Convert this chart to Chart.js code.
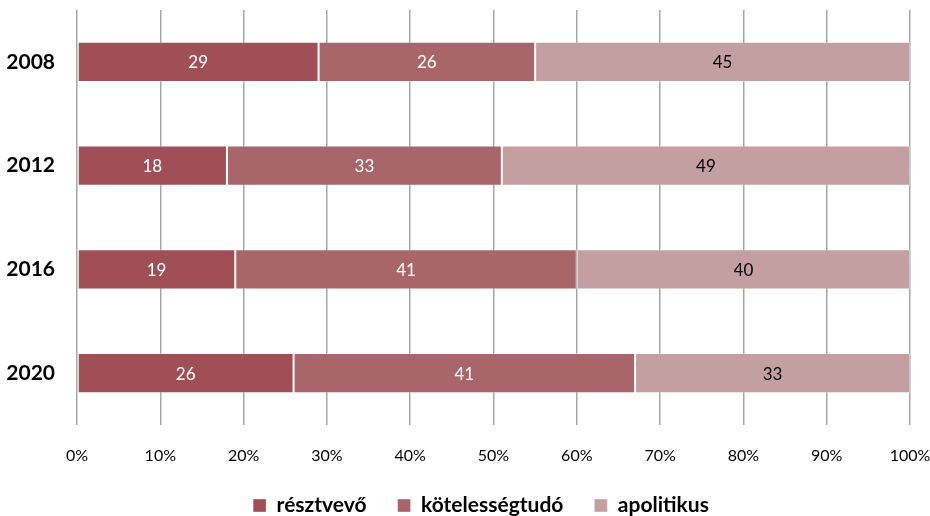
<!DOCTYPE html>
<html>
<head>
<meta charset="utf-8">
<script src="https://cdn.jsdelivr.net/npm/chart.js@4/dist/chart.umd.min.js"></script>
<style>
  html, body { margin: 0; padding: 0; background: #fff; overflow: hidden; }
  #wrap { width: 930px; height: 526px; position: relative; }
</style>
</head>
<body>
<div id="wrap"><canvas id="myChart"></canvas></div>
<script>
// years on the category axis
var years = ['2008', '2012', '2016', '2020'];
// shares (%) per group
var resztvevo = [29, 18, 19, 26];
var kotelesseg = [26, 33, 41, 41];
var apolitikus = [45, 49, 40, 33];
var xTicks = [0, 10, 20, 30, 40, 50, 60, 70, 80, 90, 100];

var fontName = "Lato, 'Open Sans', sans-serif";

// writes the value in the middle of each segment
var barLabels = {
  id: 'barLabels',
  afterDatasetsDraw: function(chart) {
    var ctx = chart.ctx;
    ctx.save();
    ctx.font = '17px ' + fontName;
    ctx.textAlign = 'center';
    ctx.textBaseline = 'middle';
    chart.data.datasets.forEach(function(ds, i) {
      var meta = chart.getDatasetMeta(i);
      meta.data.forEach(function(bar, j) {
        var mid = (bar.x + bar.base) / 2;
        ctx.fillStyle = i == 2 ? '#000' : '#fff';
        ctx.fillText(ds.data[j], mid, bar.y + 1);
      });
    });
    ctx.restore();
  }
};

// legend sits a bit right of the centre in the original
var shiftLegend = {
  id: 'shiftLegend',
  afterLayout: function(chart) {
    chart.legend.left += 26;
    chart.legend.right += 26;
  }
};

var ctx = document.getElementById('myChart').getContext('2d');
var myChart = new Chart(ctx, {
  type: 'bar',
  data: {
    labels: years,
    datasets: [{
      label: 'résztvevő',
      data: resztvevo,
      backgroundColor: '#a04f56',
      borderColor: 'rgba(255,255,255,0.35)',
      borderWidth: 1,
      borderSkipped: false
    }, {
      label: 'kötelességtudó',
      data: kotelesseg,
      backgroundColor: '#a8666a',
      borderColor: 'rgba(255,255,255,0.35)',
      borderWidth: 1,
      borderSkipped: false
    }, {
      label: 'apolitikus',
      data: apolitikus,
      backgroundColor: '#c49fa2',
      borderColor: 'rgba(255,255,255,0.35)',
      borderWidth: 1,
      borderSkipped: false
    }]
  },
  options: {
    indexAxis: 'y',
    responsive: true,
    maintainAspectRatio: false,
    animation: false,
    layout: { padding: { top: 10, right: 20, left: 0, bottom: 0 } },
    datasets: { bar: { categoryPercentage: 1, barPercentage: 0.39 } },
    scales: {
      x: {
        stacked: true,
        min: 0,
        max: 100,
        afterBuildTicks: function(axis) {
          axis.ticks = xTicks.map(function(v) { return { value: v }; });
        },
        afterFit: function(axis) {
          axis.paddingLeft = 0;
          axis.paddingRight = 0;
          axis.height = 39;
        },
        border: { display: false },
        grid: { color: '#a6a6a6', lineWidth: 1.5, tickLength: 0 },
        ticks: {
          color: '#000',
          padding: 21,
          maxRotation: 0,
          font: { family: fontName, size: 16 },
          callback: function(v) { return v + '%'; }
        }
      },
      y: {
        stacked: true,
        afterFit: function(axis) {
          axis.paddingTop = 0;
          axis.paddingBottom = 0;
          axis.width = 77;
        },
        border: { display: false },
        grid: { display: false, drawTicks: false },
        ticks: {
          color: '#000',
          padding: 22,
          font: { family: fontName, size: 21, weight: 'bold' }
        }
      }
    },
    plugins: {
      tooltip: { enabled: false },
      legend: {
        position: 'bottom',
        labels: {
          color: '#000',
          boxWidth: 13,
          boxHeight: 13,
          padding: 31,
          font: { family: fontName, size: 21, weight: 'bold' }
        }
      }
    }
  },
  plugins: [barLabels, shiftLegend]
});
</script>
</body>
</html>
